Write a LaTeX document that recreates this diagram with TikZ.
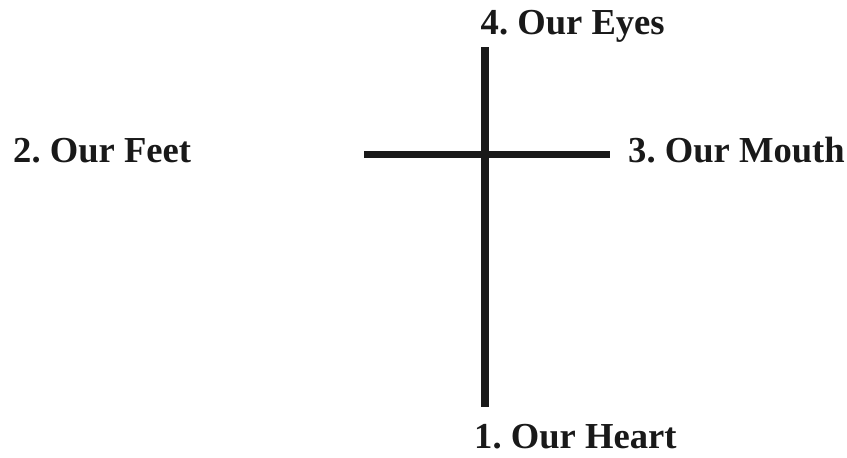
\documentclass[tikz,border=0pt]{standalone}
\usepackage{fontspec}
\setmainfont{Liberation Serif}
\begin{document}
\begin{tikzpicture}[x=1pt,y=-1pt,
  lbl/.style={anchor=base west,inner sep=0pt,font=\fontsize{36.6}{40}\selectfont\bfseries\frenchspacing,text=black!90},
  bar/.style={line width=8pt,black!90}]
\useasboundingbox (0,0) rectangle (847,458);
\coordinate (vt) at (485,47);
\coordinate (vb) at (485,406.5);
\coordinate (hl) at (364,154);
\coordinate (hr) at (610,154);
\draw[bar] (vt) -- (vb);
\draw[bar,line width=7pt] (hl) -- (hr);
\node[lbl] (eyes) at (480.5,34.3) {4. Our Eyes};
\node[lbl] (feet) at (13,162.3) {2. Our Feet};
\node[lbl] (mouth) at (628,162) {3. Our Mouth};
\node[lbl] (heart) at (474,448.3) {1. Our Heart};
\end{tikzpicture}
\end{document}
